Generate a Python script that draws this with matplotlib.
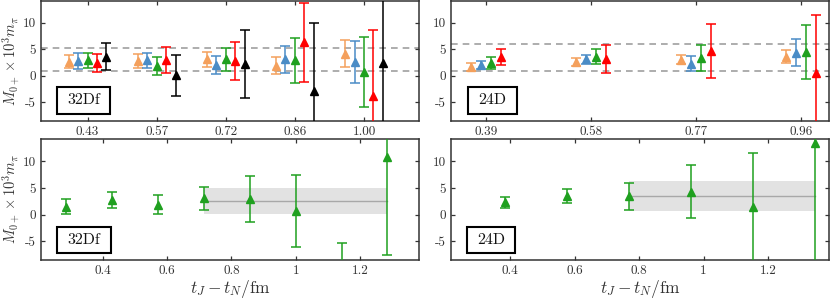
import matplotlib
matplotlib.use("Agg")
import matplotlib.pyplot as plt
from matplotlib.patches import Rectangle

plt.rcParams['font.family'] = 'serif'
plt.rcParams['font.serif'] = ['cmr10', 'DejaVu Serif']
plt.rcParams['mathtext.fontset'] = 'cm'
plt.rcParams['axes.unicode_minus'] = False

# --- 32Df, top panel: five series per source-sink separation
t_32 = [0.4286, 0.5714, 0.7143, 0.8571, 1.0]
t_32_labels = ['0.43', '0.57', '0.72', '0.86', '1.00']
y_32 = {
    'orange': [2.7, 2.8, 3.1, 1.9, 4.2],
    'blue':   [2.8, 2.9, 2.0, 3.1, 2.6],
    'green':  [2.9, 1.9, 3.1, 2.9, 0.65],
    'red':    [2.5, 3.0, 2.8, 6.3, -3.8],
    'black':  [3.6, 0.1, 2.3, -2.9, 2.5],
}
e_32 = {
    'orange': [1.3, 1.3, 1.4, 1.6, 2.5],
    'blue':   [1.5, 1.5, 1.7, 2.5, 3.9],
    'green':  [1.5, 1.7, 2.2, 4.3, 6.6],
    'red':    [1.7, 2.4, 3.6, 7.4, 12.5],
    'black':  [2.5, 3.9, 6.4, 12.8, 20.0],
}
band_32 = [0.95, 5.3]

# --- 24D, top panel: four series
t_24 = [0.3846, 0.5769, 0.7692, 0.9615]
t_24_labels = ['0.39', '0.58', '0.77', '0.96']
y_24 = {
    'orange': [1.65, 2.6, 3.05, 3.6],
    'blue':   [2.0, 3.1, 2.3, 4.4],
    'green':  [2.4, 3.6, 3.4, 4.45],
    'red':    [3.5, 3.2, 4.7, 0.6],
}
e_24 = {
    'orange': [0.75, 0.7, 0.85, 1.2],
    'blue':   [0.75, 0.8, 1.4, 2.6],
    'green':  [1.1, 1.4, 2.5, 5.05],
    'red':    [1.5, 2.7, 5.1, 10.8],
}
band_24 = [0.95, 6.05]

# --- bottom panels: single green series vs t_J - t_N
tb_32 = [0.2857, 0.4286, 0.5714, 0.7143, 0.8571, 1.0, 1.1429, 1.2857]
yb_32 = [1.5, 2.8, 1.9, 3.05, 2.95, 0.7, -12.0, 10.8]
eb_32 = [1.4, 1.5, 1.8, 2.15, 4.25, 6.7, 6.7, 18.3]
fit_32 = (0.7143, 1.2857, 2.5, 2.45)  # t_min, t_max, value, error

tb_24 = [0.3846, 0.5769, 0.7692, 0.9615, 1.1538, 1.3462]
yb_24 = [2.3, 3.5, 3.45, 4.35, 1.4, 13.5]
eb_24 = [1.05, 1.4, 2.55, 5.05, 10.2, 24.0]
fit_24 = (0.7692, 1.3462, 3.55, 2.78)

bottom_ticks = [0.4, 0.6, 0.8, 1.0, 1.2]
bottom_tick_labels = ['0.4', '0.6', '0.8', '1', '1.2']
y_ticks = [-5, 0, 5, 10]

colors = {'orange': '#F4A05C', 'blue': '#4A8CC6', 'green': '#1FA01F',
          'red': '#FF0000', 'black': '#000000'}
frame = '#333333'

fig = plt.figure(figsize=(8.3, 3.03), dpi=100)
W, H = 830, 303


def add_ax(x0, y0, x1, y1):
    return fig.add_axes([x0 / W, 1 - y1 / H, (x1 - x0) / W, (y1 - y0) / H])


ax_tl = add_ax(41, 0.5, 419, 121)
ax_tr = add_ax(451, 0.5, 829, 121)
ax_bl = add_ax(41, 139, 419, 260)
ax_br = add_ax(451, 139, 829, 260)


def style(ax):
    for s in ax.spines.values():
        s.set_color(frame)
        s.set_linewidth(1.1)
    ax.tick_params(direction='in', top=True, right=True, length=3,
                   width=0.9, color=frame, labelcolor=frame, labelsize=9.5, pad=3.5)
    ax.set_ylim(-8.5, 14.2)
    ax.set_yticks(y_ticks)
    ax.set_yticklabels([str(v) for v in y_ticks])


def ens_box(ax, name, x0, y0, w, h):
    ax.add_patch(Rectangle((x0, y0), w, h, transform=ax.transAxes,
                           facecolor='white', edgecolor='black', lw=1.5, zorder=5))
    ax.text(x0 + w / 2, y0 + h / 2, name, transform=ax.transAxes, ha='center',
            va='center', fontsize=11.5, color='#111111', zorder=6)


def draw_err(ax, x, y, e, c):
    ax.errorbar(x, y, yerr=e, fmt='^', color=c, ms=5.5, capsize=3.8,
                elinewidth=1.1, capthick=1.1, zorder=3)


ylab = r'$M_{0+}\times 10^3 m_\pi$'

# top left
style(ax_tl)
for v in band_32:
    ax_tl.axhline(v, color='#a0a0a0', ls='--', lw=1.2, dashes=(4, 3), zorder=1)
offs = [-2, -1, 0, 1, 2]
for k, key in enumerate(y_32):
    xs = [t + offs[k] * 0.0196 for t in t_32]
    draw_err(ax_tl, xs, y_32[key], e_32[key], colors[key])
ax_tl.set_xlim(0.3325, 1.1137)
ax_tl.set_xticks(t_32)
ax_tl.set_xticklabels(t_32_labels)
ax_tl.set_ylabel(ylab, fontsize=10.5, color=frame)
ax_tl.yaxis.set_label_coords(-0.05, 0.5)
ens_box(ax_tl, '32Df', 0.042, 0.058, 0.140, 0.223)

# top right
style(ax_tr)
for v in band_24:
    ax_tr.axhline(v, color='#a0a0a0', ls='--', lw=1.2, dashes=(4, 3), zorder=1)
offs = [-1.5, -0.5, 0.5, 1.5]
for k, key in enumerate(y_24):
    xs = [t + offs[k] * 0.0187 for t in t_24]
    draw_err(ax_tr, xs, y_24[key], e_24[key], colors[key])
ax_tr.set_xlim(0.3206, 1.0127)
ax_tr.set_xticks(t_24)
ax_tr.set_xticklabels(t_24_labels)
ens_box(ax_tr, '24D', 0.045, 0.058, 0.130, 0.223)

# bottom panels
for ax, tb, yb, eb, fit, xl, name, bw in [
        (ax_bl, tb_32, yb_32, eb_32, fit_32, (0.207, 1.384), '32Df', 0.143),
        (ax_br, tb_24, yb_24, eb_24, fit_24, (0.217, 1.389), '24D', 0.127)]:
    style(ax)
    t0, t1, val, err = fit
    ax.fill_between([t0, t1], val - err, val + err, color='#e2e2e2', lw=0, zorder=1)
    ax.plot([t0, t1], [val, val], color='#a8a8a8', lw=1.0, zorder=2)
    draw_err(ax, tb, yb, eb, colors['green'])
    ax.set_xlim(*xl)
    ax.set_xticks(bottom_ticks)
    ax.set_xticklabels(bottom_tick_labels)
    ax.set_xlabel(r'$t_J - t_N/\mathrm{fm}$', fontsize=12.5, color=frame, labelpad=1)
    ens_box(ax, name, 0.042, 0.057, bw, 0.215)
ax_bl.set_ylabel(ylab, fontsize=10.5, color=frame)
ax_bl.yaxis.set_label_coords(-0.05, 0.5)

fig.savefig('out.png', dpi=100)
